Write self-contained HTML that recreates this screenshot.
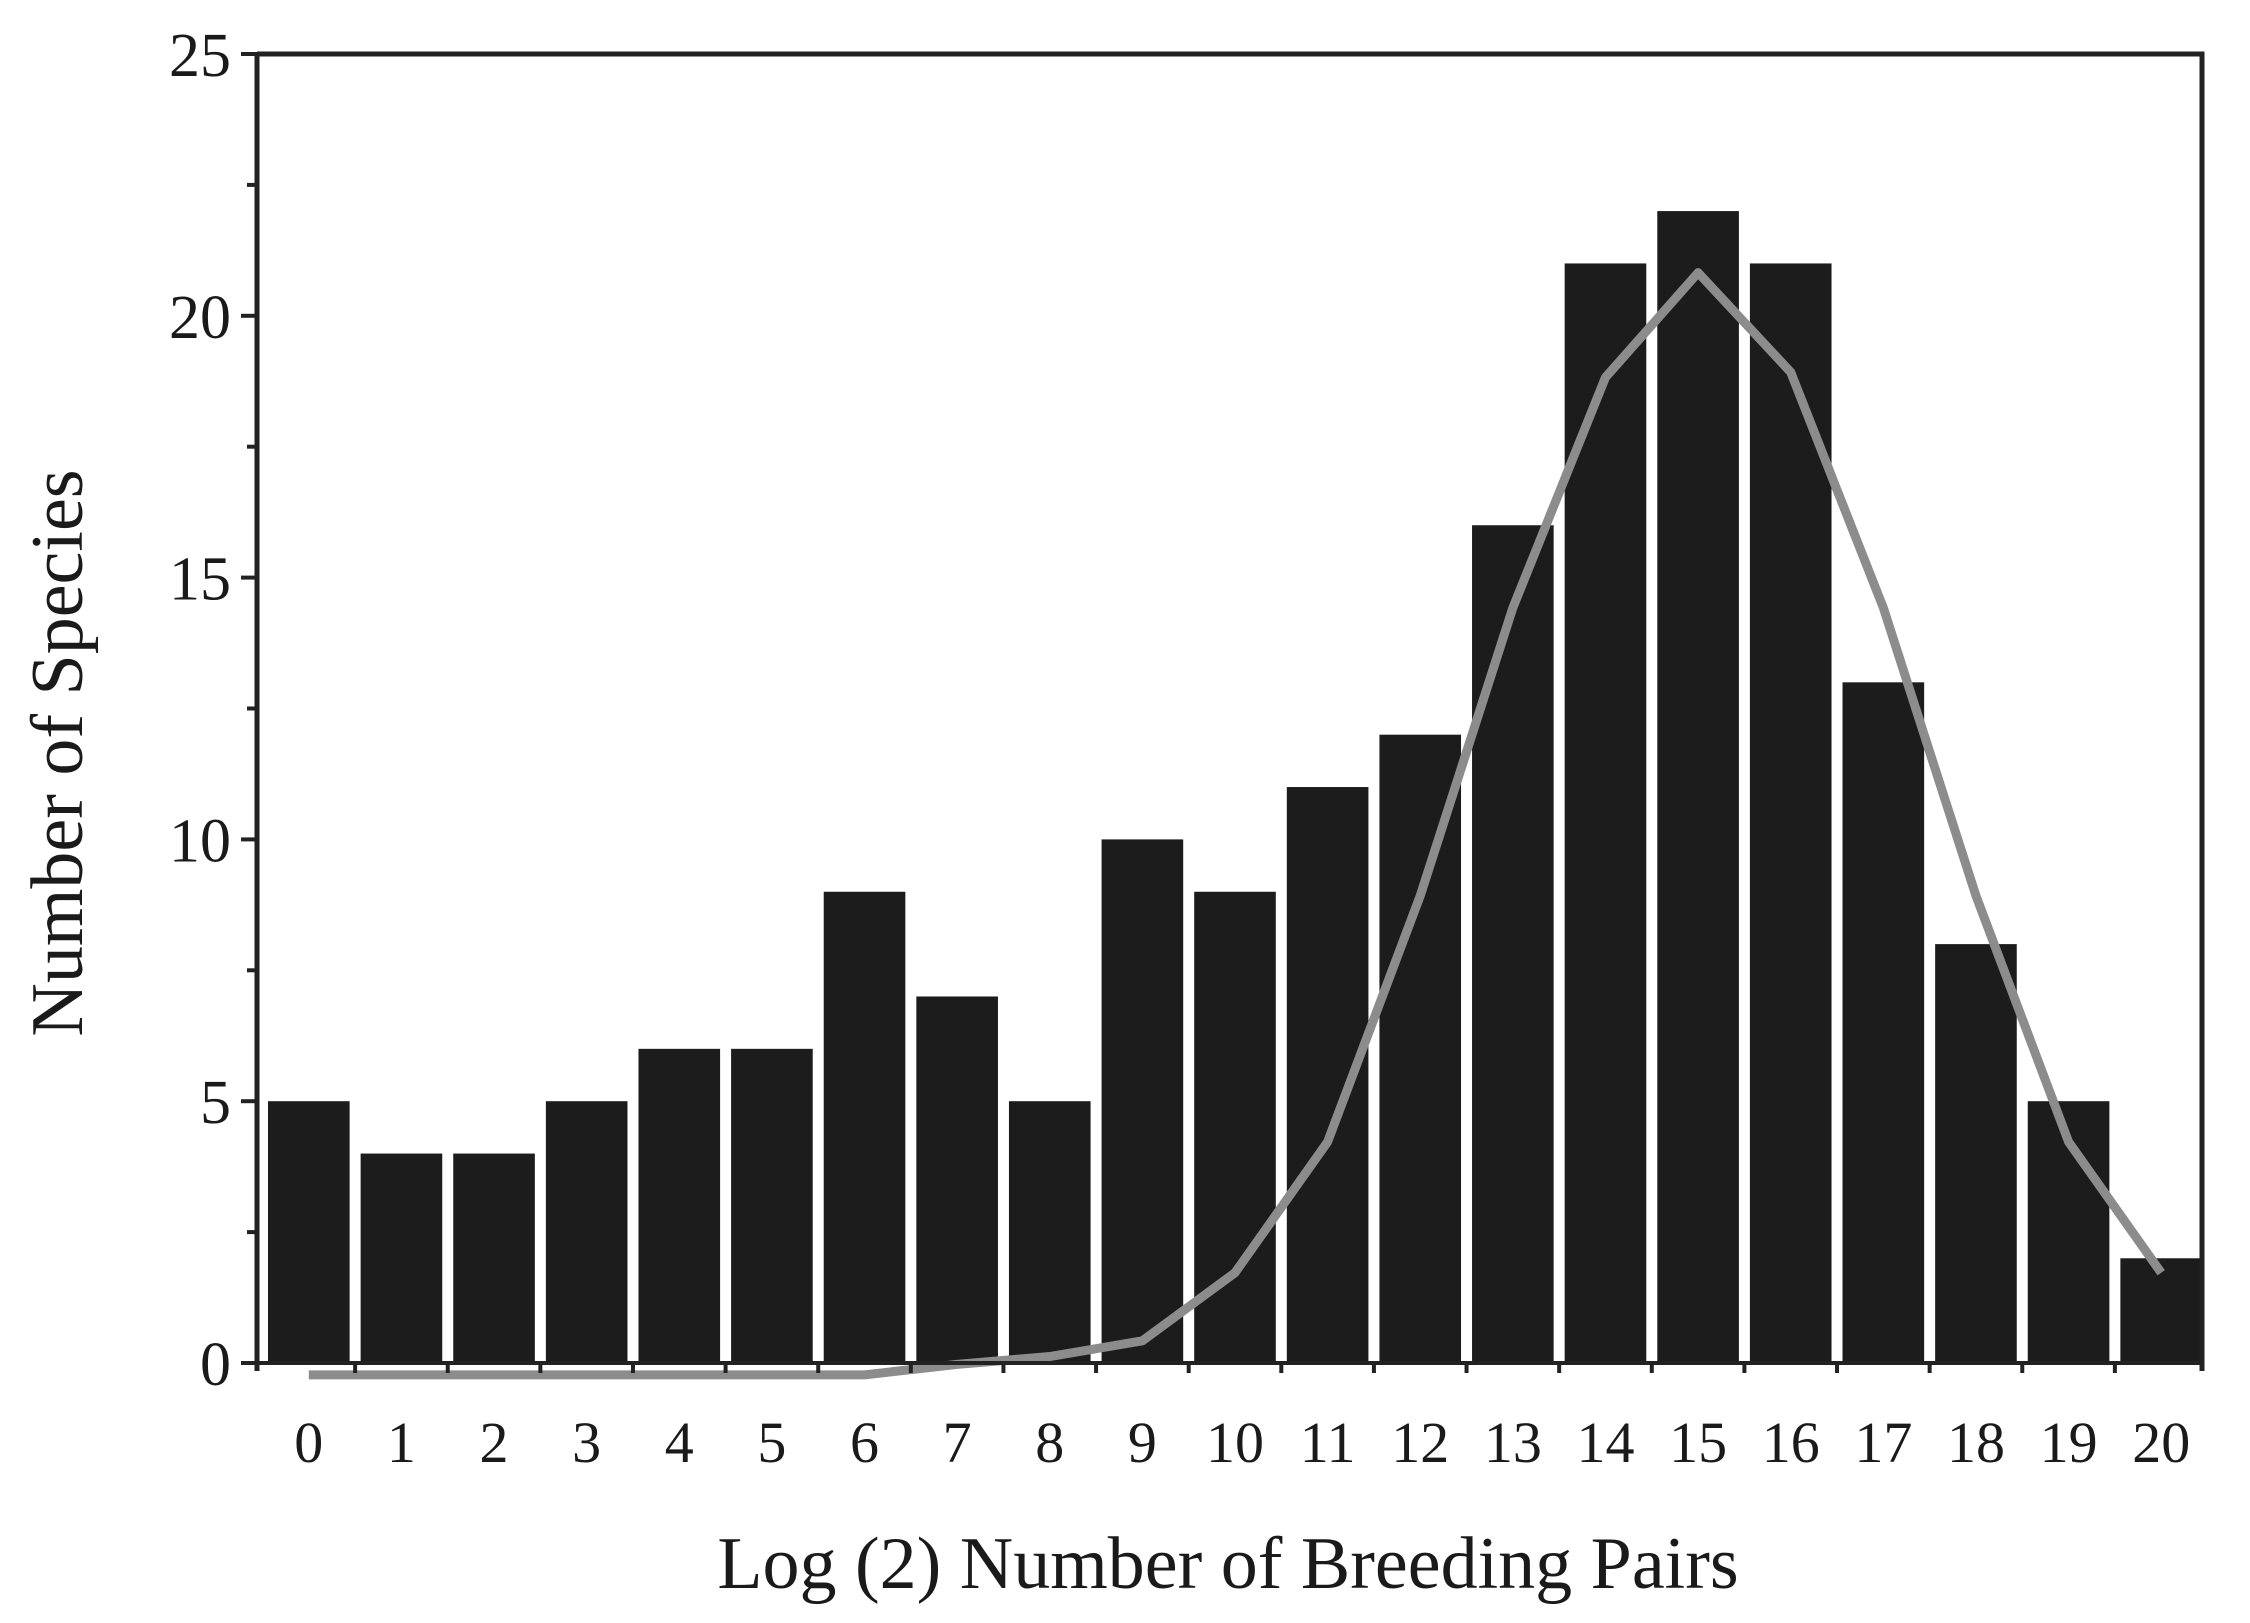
<!DOCTYPE html>
<html><head><meta charset="utf-8"><style>
html,body{margin:0;padding:0;background:#fff;}
svg{display:block;font-family:"Liberation Serif",serif;}
</style></head><body>
<svg id="chart" width="2250" height="1623" viewBox="0 0 2250 1623">
<defs>
<pattern id="checker" width="4" height="4" patternUnits="userSpaceOnUse">
<rect width="4" height="4" fill="#fff"/><rect width="2" height="2" fill="#333"/><rect x="2" y="2" width="2" height="2" fill="#333"/>
</pattern>
</defs>
<g id="bars"></g>
<path id="curve" fill="none" stroke="#8c8c8c" stroke-width="9" stroke-linejoin="round"/>
<g id="axes"></g>
<text x="1228" y="1588" font-size="74" text-anchor="middle" fill="#1a1a1a">Log (2) Number of Breeding Pairs</text>
<text transform="translate(82,753) rotate(-90)" font-size="74" text-anchor="middle" fill="#1a1a1a">Number of Species</text>
</svg>
<script>
const categories = [0,1,2,3,4,5,6,7,8,9,10,11,12,13,14,15,16,17,18,19,20];
const counts = [5,4,4,5,6,6,9,7,5,10,9,11,12,16,21,22,21,13,8,5,2];
const curveValues = [-0.15,-0.15,-0.15,-0.15,-0.15,-0.15,-0.15,0.05,0.2,0.5,1.8,4.3,9,14.5,18.9,20.9,19,14.5,9,4.3,1.8];
const yTicks = [0,5,10,15,20,25];
const yMinorTicks = [2.5,7.5,12.5,17.5,22.5];

const NS="http://www.w3.org/2000/svg";
const X0=257, X1=2202, Y0=1363, YT=54, YMAX=25;
const slot=(X1-X0)/categories.length, gap=11;
const y=v=>Y0-(v/YMAX)*(Y0-YT);
const xLeft=i=>X0+i*slot;
const xC=i=>X0+i*slot+gap/2+slot/2;
function mk(tag,attrs,parent){const e=document.createElementNS(NS,tag);for(const k in attrs)e.setAttribute(k,attrs[k]);parent.appendChild(e);return e;}
const bars=document.getElementById('bars'), axes=document.getElementById('axes');

counts.forEach((c,i)=>{
  const r=mk('rect',{x:xLeft(i)+gap,y:y(c),width:slot-gap,height:Y0-y(c),fill:'#1c1c1c'},bars);
  
  
});

let d='';
curveValues.forEach((v,i)=>{d+=(i?'L':'M')+xC(i)+' '+(y(v)+4)+' ';});
document.getElementById('curve').setAttribute('d',d);

// axis frame
const frame=mk('path',{d:`M${X0} ${YT} H${X1} V${Y0+8} M${X0} ${YT} V${Y0+8}`,fill:'none',stroke:'#222','stroke-width':5},axes);


const base=mk('line',{x1:X0-12,x2:X1,y1:Y0,y2:Y0,stroke:'#222','stroke-width':4},axes);



yTicks.forEach(t=>{
  const l=mk('line',{x1:X0-16,x2:X0,y1:y(t),y2:y(t),stroke:'#222','stroke-width':4},axes);
  
  
  const tx=mk('text',{x:X0-26,y:y(t)+22,'font-size':62,'text-anchor':'end',fill:'#1a1a1a'},axes);
  tx.textContent=t;
  
  
});
yMinorTicks.forEach(t=>{
  const l=mk('line',{x1:X0-10,x2:X0,y1:y(t),y2:y(t),stroke:'#222','stroke-width':4},axes);
  
  
});
categories.forEach((c,i)=>{
  if(i>0){
    const l=mk('line',{x1:xLeft(i)+gap/2,x2:xLeft(i)+gap/2,y1:Y0,y2:Y0+10,stroke:'#222','stroke-width':4},axes);
    
    
  }
  const tx=mk('text',{x:xC(i),y:1462,'font-size':58,'text-anchor':'middle',fill:'#1a1a1a'},axes);
  tx.textContent=c;
  
  
});
</script>
</body></html>
